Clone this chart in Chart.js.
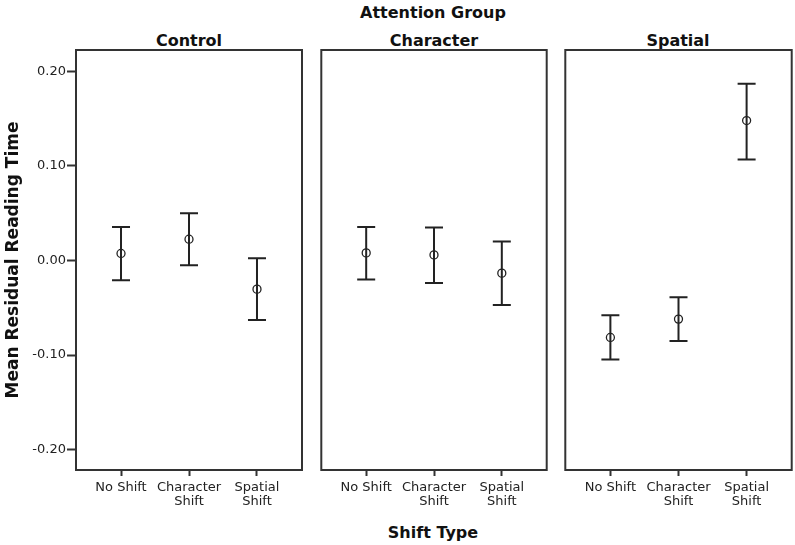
<!DOCTYPE html>
<html>
<head>
<meta charset="utf-8">
<script src="https://cdn.jsdelivr.net/npm/chart.js@4.4.1/dist/chart.umd.min.js"></script>
<style>
  body { margin: 0; background: #fff; }
  #wrap { position: relative; width: 795px; height: 545px; overflow: hidden; font-family: "DejaVu Sans", sans-serif; }
  canvas { position: absolute; }
  .lbl { position: absolute; transform: translate(-50%, -50%); font-weight: bold; font-size: 16px; color: #111; white-space: nowrap; }
</style>
</head>
<body>
<div id="wrap">
  <div class="lbl" style="left:433px; top:12px;">Attention Group</div>
  <div class="lbl" style="left:189px; top:40px;">Control</div>
  <div class="lbl" style="left:434px; top:40px;">Character</div>
  <div class="lbl" style="left:678px; top:40px;">Spatial</div>
  <div class="lbl" style="left:433px; top:532px;">Shift Type</div>
  <canvas id="c1" width="308" height="480" style="left:0px; top:40px;"></canvas>
  <canvas id="c2" width="236" height="480" style="left:316px; top:40px;"></canvas>
  <canvas id="c3" width="237" height="480" style="left:560px; top:40px;"></canvas>
</div>
<script>
const shiftTypes = ["No Shift", ["Character", "Shift"], ["Spatial", "Shift"]];
const groups = ["Control", "Character", "Spatial"];
const yTicks = [-0.2, -0.1, 0, 0.1, 0.2];

// means and error bar ends
const controlMean = [0.0074, 0.0225, -0.0303];
const controlLow = [-0.0208, -0.0050, -0.0628];
const controlHigh = [0.0355, 0.0500, 0.0024];

const characterMean = [0.0080, 0.0059, -0.0134];
const characterLow = [-0.0201, -0.0237, -0.0472];
const characterHigh = [0.0355, 0.0349, 0.0201];

const spatialMean = [-0.0814, -0.0620, 0.1479];
const spatialLow = [-0.1047, -0.0850, 0.1068];
const spatialHigh = [-0.0578, -0.0389, 0.1867];

const ink = "#222";

const errorBars = {
  id: "errorBars",
  beforeDatasetsDraw(chart) {
    const ctx = chart.ctx;
    const xs = chart.scales.x;
    const ys = chart.scales.y;
    const low = chart.options.plugins.errorBars.low;
    const high = chart.options.plugins.errorBars.high;
    ctx.save();
    ctx.strokeStyle = ink;
    ctx.lineWidth = 2;
    for (let i = 0; i < low.length; i++) {
      const x = xs.getPixelForValue(i);
      const y1 = ys.getPixelForValue(low[i]);
      const y2 = ys.getPixelForValue(high[i]);
      ctx.beginPath();
      ctx.moveTo(x, y1);
      ctx.lineTo(x, y2);
      ctx.moveTo(x - 9, y1);
      ctx.lineTo(x + 9, y1);
      ctx.moveTo(x - 9, y2);
      ctx.lineTo(x + 9, y2);
      ctx.stroke();
    }
    ctx.restore();
  },
  afterDraw(chart) {
    const a = chart.chartArea;
    const ctx = chart.ctx;
    ctx.save();
    ctx.strokeStyle = "#333";
    ctx.lineWidth = 2;
    ctx.strokeRect(a.left, a.top, a.right - a.left, a.bottom - a.top);
    ctx.restore();
  }
};

function makePanel(id, mean, low, high, showY) {
  const pts = [];
  for (let i = 0; i < mean.length; i++) {
    pts.push({ x: i, y: mean[i] });
  }
  return new Chart(document.getElementById(id), {
    type: "scatter",
    data: {
      datasets: [{
        data: pts,
        pointStyle: "circle",
        pointRadius: 4,
        pointBorderWidth: 1.3,
        borderColor: ink,
        backgroundColor: "rgba(0,0,0,0)"
      }]
    },
    options: {
      responsive: false,
      animation: false,
      layout: { padding: { top: 10, right: showY ? 6 : 3, left: showY ? 0 : 3, bottom: 0 } },
      plugins: {
        legend: { display: false },
        tooltip: { enabled: false },
        errorBars: { low: low, high: high }
      },
      scales: {
        x: {
          type: "linear",
          min: -0.662,
          max: 2.662,
          afterBuildTicks: (s) => { s.ticks = shiftTypes.map((_, i) => ({ value: i })); },
          afterFit: (s) => { s.height = 50; s.paddingLeft = 0; s.paddingRight = 0; },
          ticks: {
            color: ink,
            font: { family: "DejaVu Sans", size: 13, lineHeight: 1.1 },
            padding: 4,
            maxRotation: 0,
            autoSkip: false,
            callback: (v) => shiftTypes[v]
          },
          grid: { drawOnChartArea: false, drawTicks: true, tickLength: 6, tickColor: "#333", tickWidth: 2 },
          border: { display: false }
        },
        y: {
          display: showY,
          min: -0.2215,
          max: 0.2225,
          afterBuildTicks: (s) => { s.ticks = yTicks.map((v) => ({ value: v })); },
          afterFit: (s) => { s.width = showY ? 76 : 0; },
          ticks: {
            color: ink,
            font: { family: "DejaVu Sans", size: 13 },
            padding: 1,
            callback: (v) => v.toFixed(2)
          },
          grid: { drawOnChartArea: false, drawTicks: true, tickLength: 9, tickColor: "#333", tickWidth: 2 },
          border: { display: false },
          title: {
            display: true,
            text: "Mean Residual Reading Time",
            color: "#111",
            font: { family: "DejaVu Sans", size: 17, weight: "bold" },
            padding: { top: 3, bottom: 0 }
          }
        }
      }
    },
    plugins: [errorBars]
  });
}

makePanel("c1", controlMean, controlLow, controlHigh, true);
makePanel("c2", characterMean, characterLow, characterHigh, false);
makePanel("c3", spatialMean, spatialLow, spatialHigh, false);
</script>
</body>
</html>
